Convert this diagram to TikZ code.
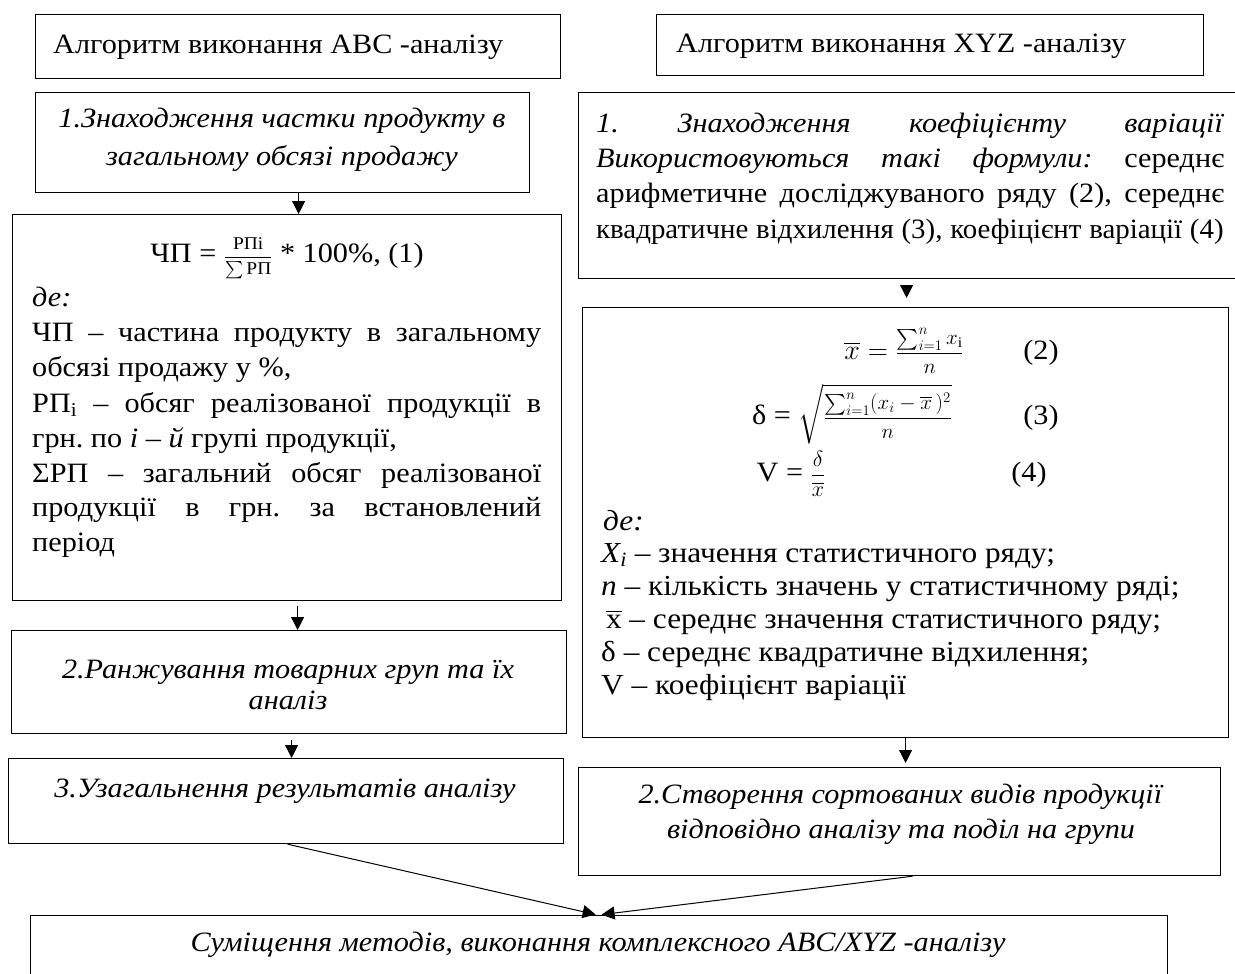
\RequirePackage{fix-cm}
\documentclass[tikz,border=0pt]{standalone}
\usepackage{amsmath}
\usepackage{graphicx}
\usepackage{fontspec}
\setmainfont{Liberation Serif}[FakeStretch=1.08]
\usetikzlibrary{arrows.meta,calc}
\newcommand{\fsz}[1]{\fontsize{#1pt}{#1pt}\selectfont}
\begin{document}
\frenchspacing
\begin{tikzpicture}[x=1pt,y=-1pt,
  box/.style={draw=black,line width=1.2pt,inner sep=0pt,anchor=north west},
  txt/.style={inner sep=0pt,font=\fontsize{28pt}{35pt}\selectfont},
  lft/.style={txt,anchor=base west},
  ctr/.style={txt,anchor=base},
  def/.style={lft,font=\fontsize{29pt}{35pt}\selectfont},
  arr/.style={line width=1pt,-{Triangle[width=13pt,length=13pt]}}]
\useasboundingbox (0,0) rectangle (1235,974);
% boxes
\node[box,minimum width=525pt,minimum height=64pt] (A1) at (35,14) {};
\node[box,minimum width=494pt,minimum height=100pt] (A2) at (35,92) {};
\node[box,minimum width=549pt,minimum height=386pt] (A3) at (12,214) {};
\node[box,minimum width=555pt,minimum height=103pt] (A4) at (11,630) {};
\node[box,minimum width=555pt,minimum height=85pt] (A5) at (8,758) {};
\node[box,minimum width=547pt,minimum height=61pt] (B1) at (656,14) {};
\node[box,minimum width=662pt,minimum height=186pt] (B2) at (578,92) {};
\node[box,minimum width=646pt,minimum height=430pt] (B3) at (582,307) {};
\node[box,minimum width=642pt,minimum height=108pt] (B4) at (578,767) {};
\node[box,minimum width=1137pt,minimum height=75pt] (Z) at (30,915) {};
% texts left column
\node[lft] (t1) at (53,54) {Алгоритм виконання АВС -аналізу};
\node[ctr] (t2a) at (282,128) {\textit{1.Знаходження частки продукту в}};
\node[ctr] (t2b) at (282,165) {\textit{загальному обсязі продажу}};
\node[ctr] (f1) at (287,262) {ЧП = \mbox{\fsz{18}$\dfrac{\text{РПi}}{\sum\text{РП}}$} * 100\%, (1)};
\node[lft] (d1) at (32,306) {\textit{де:}};
\node[lft] (l1) at (32,341) {\makebox[509pt][s]{ЧП – частина продукту в загальному}};
\node[lft] (l2) at (32,376) {обсязі продажу у \%,};
\node[lft] (l3) at (32,412) {\makebox[509pt][s]{РП\textsubscript{і} – обсяг реалізованої продукції в}};
\node[lft] (l4) at (32,447) {грн. по \textit{і – й} групі продукції,};
\node[lft] (l5) at (32,482) {\makebox[509pt][s]{ΣРП – загальний обсяг реалізованої}};
\node[lft] (l6) at (32,516) {\makebox[509pt][s]{продукції в грн. за встановлений}};
\node[lft] (l7) at (32,551) {період};
\node[ctr] (t4a) at (288,678) {\textit{2.Ранжування товарних груп та їх}};
\node[ctr] (t4b) at (288,709) {\textit{аналіз}};
\node[ctr] (t5) at (285,797) {\textit{3.Узагальнення результатів аналізу}};
% right column
\node[lft] (r1) at (676,53) {Алгоритм виконання XYZ -аналізу};
\node[lft] (m1) at (596,132) {\makebox[628pt][s]{\textit{1. Знаходження коефіцієнту варіації}}};
\node[lft] (m2) at (596,167) {\makebox[628pt][s]{\textit{Використовуються такі формули:} середнє}};
\node[lft] (m3) at (596,202) {\makebox[628pt][s]{арифметичне досліджуваного ряду (2), середнє}};
\node[lft] (m4) at (596,238) {\scalebox{0.955}[1]{\makebox[657pt][s]{квадратичне відхилення (3), коефіцієнт варіації (4)}}};
\node[ctr] (f2) at (904,359) {$\overline{x} = \mbox{\fsz{21}$\dfrac{\sum_{i=1}^{n} x_{\mathrm{i}}}{n}$}$};
\node[ctr] (n2) at (1041,359) {(2)};
\node[ctr] (f3) at (852,424) {δ = $\sqrt{\mbox{\fsz{21}$\dfrac{\sum_{i=1}^{n}(x_i-\overline{x}\,)^2}{n}$}}$};
\node[ctr] (n3) at (1041,424) {(3)};
\node[ctr] (f4) at (791,481) {V = \mbox{\fsz{22}$\dfrac{\delta}{\overline{x}}$}};
\node[ctr] (n4) at (1029,481) {(4)};
\node[def] (e0) at (603,530) {\textit{де:}};
\node[def] (e1) at (601,562) {\textit{X\textsubscript{i}} – значення статистичного ряду;};
\node[def] (e2) at (601,595) {\textit{n} – кількість значень у статистичному ряді;};
\node[def] (e3) at (601,628) {\,$\overline{\text{x}}$ – середнє значення статистичного ряду;};
\node[def] (e4) at (601,661) {δ – середнє квадратичне відхилення;};
\node[def] (e5) at (601,694) {V – коефіцієнт варіації};
\node[ctr] (s1) at (901,803) {\textit{2.Створення сортованих видів продукції}};
\node[ctr] (s2) at (901,838) {\textit{відповідно аналізу та поділ на групи}};
\node[ctr] (z1) at (598,951) {\textit{Суміщення методів, виконання комплексного ABC/XYZ -аналізу}};
% arrows
\draw[arr] ([xshift=16pt]A2.south) -- ([xshift=11.5pt]A3.north);
\draw[arr,shorten <=5pt] ([xshift=10.5pt]A3.south) -- ([xshift=8.5pt]A4.north);
\draw[arr,shorten <=6pt] ([xshift=2.5pt]A4.south) -- ([xshift=5.5pt]A5.north);
\draw[arr,shorten <=10pt,shorten >=9pt] ([xshift=-3pt]B2.south) -- ([xshift=1pt]B3.north);
\draw[arr,shorten >=4pt] (B3.south) -- ([xshift=6pt]B4.north);
\draw[arr,shorten >=2pt] ([xshift=1.5pt]A5.south) -- ([xshift=-1.5pt]Z.north);
\draw[arr,shorten >=3pt] ([xshift=13pt]B4.south) -- ([xshift=-0.5pt]Z.north);
\end{tikzpicture}
\end{document}
